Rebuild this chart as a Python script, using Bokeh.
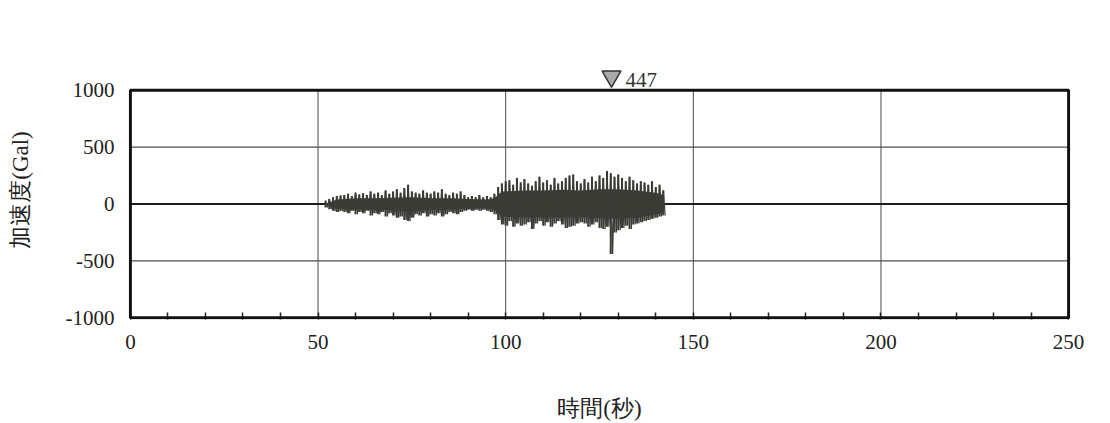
from bokeh.plotting import figure
from bokeh.models import Range1d, FixedTicker, SingleIntervalTicker, BoxAnnotation
from bokeh.core.properties import value
from bokeh.embed import file_html
from bokeh.resources import INLINE

# ---- data ----
t_start = 52            # seconds, first sample of the recorded motion
t_step = 1.0            # one peak value per second
upper = [30, 45, 60, 70, 75,
         80, 90, 70, 100, 85, 95, 80, 110, 90,
         100, 80, 120, 90, 110, 130, 100, 140, 170, 110,
         100, 90, 120, 100, 90, 110, 100, 130, 90, 80,
         100, 90, 110, 80, 60, 70, 60, 80, 60, 70, 60, 90,
         150, 180, 200, 210, 170, 230, 190, 220, 180, 160, 200, 240, 190,
         210, 170, 230, 180, 200, 230, 250, 260, 200, 180,
         220, 190, 240, 200, 250, 230, 290, 270, 240, 260,
         230, 200, 240, 210, 180, 200, 190, 170, 200, 150, 170, 120]
lower = [-30, -45, -60, -70, -60,
         -70, -80, -60, -90, -70, -80, -60, -100, -80,
         -90, -70, -110, -80, -100, -120, -110, -140, -150, -120,
         -90, -100, -80, -110, -90, -100, -80, -110, -90, -70,
         -80, -90, -70, -60, -50, -60, -50, -60, -50, -60, -70, -90,
         -140, -180, -190, -150, -200, -170, -190, -180, -160, -220, -170, -150, -190,
         -160, -200, -170, -150, -180, -210, -200, -190, -170, -160,
         -170, -200, -180, -160, -210, -220, -200, -440, -250, -230,
         -210, -190, -220, -180, -170, -160, -150, -140, -130, -120, -110, -100]
# dense core of the trace (coarse envelope of the dark band)
core_t = [52, 55, 60, 65, 70, 75, 80, 85, 90, 95, 97, 99, 105, 110, 115, 120, 125, 130, 135, 140, 142]
core_up = [0, 40, 50, 50, 55, 60, 50, 50, 45, 40, 50, 110, 120, 120, 125, 120, 130, 130, 120, 100, 80]
core_lo = [0, -40, -50, -50, -55, -70, -50, -50, -40, -40, -50, -110, -120, -115, -120, -115, -125, -130, -120, -90, -80]
peak_time = [128.2]
peak_value = [447]
x_tick_step = 50
x_ticks = list(range(0, 251, x_tick_step))
y_ticks = [-1000, -500, 0, 500, 1000]
x_lim = (0, 250)
y_lim = (-1000, 1000)
x_title = "時間(秒)"
y_title = "加速度(Gal)"

n = len(upper)
times = [t_start + i * t_step for i in range(n)]

# zig-zag trace between the peak values
xs, ys = [], []
for t, u, l in zip(times, upper, lower):
    xs += [t, t + t_step / 2]
    ys += [u, l]

# plot ranges: a little room around the box, and space above it for the peak marker
px_per_gal = 229 / (y_lim[1] - y_lim[0])
x_pad = 0.5
y_pad = 15
y_top = y_lim[1] + 30 / px_per_gal

p = figure(width=1110, height=423, output_backend="svg", toolbar_location=None,
           x_range=Range1d(x_lim[0] - x_pad, x_lim[1] + x_pad),
           y_range=Range1d(y_lim[0] - y_pad, y_top),
           min_border_left=128, min_border_right=40, min_border_top=60, min_border_bottom=102)
p.background_fill_color = "white"
p.border_fill_color = "white"
p.outline_line_color = None
p.xgrid.grid_line_color = None
p.ygrid.grid_line_color = None

# axes
p.xaxis.ticker = SingleIntervalTicker(interval=x_tick_step, num_minor_ticks=5)
p.yaxis.ticker = FixedTicker(ticks=y_ticks, minor_ticks=[])
p.yaxis.major_label_overrides = {t: str(t) for t in y_ticks}
for ax in (p.xaxis[0], p.yaxis[0]):
    ax.axis_line_color = None
    ax.major_tick_line_color = None
    ax.major_label_text_font = "Liberation Serif"
    ax.major_label_text_font_size = "21px"
    ax.major_label_text_color = "#222222"
    ax.axis_label_text_font = "Liberation Serif"
    ax.axis_label_text_font_size = "23px"
    ax.axis_label_text_font_style = "normal"
    ax.axis_label_text_color = "#222222"
p.xaxis.minor_tick_in = 7
p.xaxis.minor_tick_out = 0
p.xaxis.minor_tick_line_color = "#222222"
p.xaxis.minor_tick_line_width = 1.5
p.yaxis.minor_tick_line_color = None
p.xaxis.major_label_standoff = 9
p.yaxis.major_label_standoff = 8
p.xaxis.axis_label = x_title
p.yaxis.axis_label = y_title
p.xaxis.axis_label_standoff = 44
p.yaxis.axis_label_standoff = 30

# grid lines inside the box
inner_x = [t for t in x_ticks if x_lim[0] < t < x_lim[1]]
p.segment(x0=inner_x, y0=[y_lim[0]] * len(inner_x), x1=inner_x, y1=[y_lim[1]] * len(inner_x),
          line_color="#4a4a4a", line_width=1)
side_y = [v for v in y_ticks if y_lim[0] < v < y_lim[1] and v != 0]
p.segment(x0=[x_lim[0]] * len(side_y), y0=side_y, x1=[x_lim[1]] * len(side_y), y1=side_y,
          line_color="#46505a", line_width=1.3)
p.segment(x0=[x_lim[0]], y0=[0], x1=[x_lim[1]], y1=[0], line_color="#1e1e1e", line_width=2)

# waveform
wave_color = "#3b3c35"
p.varea(x=core_t, y1=core_lo, y2=core_up, fill_color=wave_color)
p.vbar(x=times, bottom=lower, top=upper, width=0.55, fill_color=wave_color, line_color=None)
p.line(xs, ys, line_color=wave_color, line_width=1.2)

# box
p.add_layout(BoxAnnotation(left=x_lim[0], right=x_lim[1], bottom=y_lim[0], top=y_lim[1],
                           fill_color=None, fill_alpha=0, line_color="#111111",
                           line_alpha=1.0, line_width=3))

# peak marker above the box
tri_size = 19
tri_center = y_lim[1] + (tri_size * 0.577 + 3) / px_per_gal
p.scatter(x=peak_time, y=[tri_center], marker="inverted_triangle", size=tri_size,
          fill_color="#a9a9a9", line_color="#333333", line_width=1.5)
p.text(x=peak_time, y=[y_lim[1]], text=[str(v) for v in peak_value], x_offset=14, y_offset=-3,
       text_align="left", text_baseline="bottom", text_font=value("Liberation Serif"),
       text_font_size="21px", text_color="#333333")

open("out.html", "w").write(file_html(p, INLINE))
